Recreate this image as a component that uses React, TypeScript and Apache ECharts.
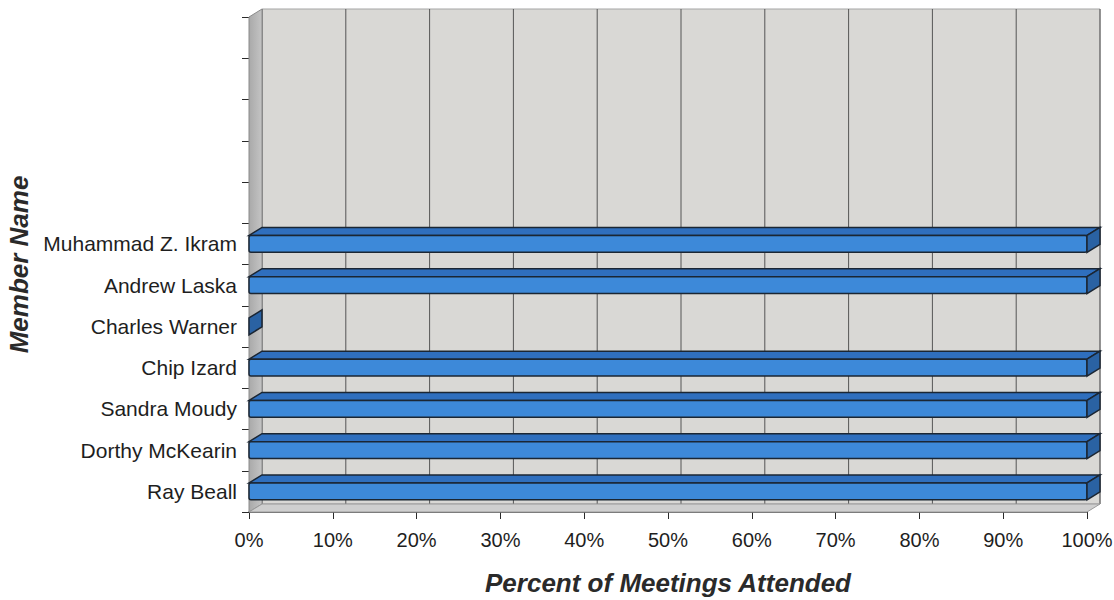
import React, { useEffect, useRef } from "react";
import * as echarts from "echarts";

// Categories listed bottom-to-top (ECharts category y-axis order); top 5 slots are empty
const memberNames = [
  "Ray Beall",
  "Dorthy McKearin",
  "Sandra Moudy",
  "Chip Izard",
  "Charles Warner",
  "Andrew Laska",
  "Muhammad Z. Ikram",
  "",
  "",
  "",
  "",
  "",
];
const percentAttended = [100, 100, 100, 100, 0, 100, 100];
const percentTicks = [0, 10, 20, 30, 40, 50, 60, 70, 80, 90, 100];

const xTitle = "Percent of Meetings Attended";
const yTitle = "Member Name";

const DX = 13;
const DY = -8;
const FONT = "'Liberation Sans', Arial, Helvetica, sans-serif";

export default function App() {
  const ref = useRef<HTMLDivElement>(null);

  useEffect(() => {
    if (!ref.current) return;
    const chart = echarts.init(ref.current, undefined, { renderer: "svg" });

    const wallsRender = (params: any, api: any) => {
      const cs = params.coordSys;
      const x0 = cs.x;
      const x1 = cs.x + cs.width;
      const y0 = cs.y;
      const y1 = cs.y + cs.height;
      const children: any[] = [];
      // back wall
      children.push({
        type: "rect",
        shape: { x: x0 + DX, y: y0 + DY, width: x1 - x0, height: y1 - y0 },
        style: { fill: "#d9d8d5", stroke: "#a5a5a5", lineWidth: 1 },
      });
      // gridlines on back wall
      percentTicks.forEach((t) => {
        const px = api.coord([t, 0])[0] + DX;
        children.push({
          type: "line",
          shape: { x1: px, y1: y0 + DY, x2: px, y2: y1 + DY },
          style: { stroke: "#555555", lineWidth: 1 },
        });
      });
      // left side wall
      children.push({
        type: "polygon",
        shape: {
          points: [
            [x0, y0],
            [x0 + DX, y0 + DY],
            [x0 + DX, y1 + DY],
            [x0, y1],
          ],
        },
        style: {
          fill: new echarts.graphic.LinearGradient(0, 0, 1, 0, [
            { offset: 0, color: "#a9a9a9" },
            { offset: 1, color: "#c4c4c4" },
          ]),
          stroke: "#8a8a8a",
          lineWidth: 1,
        },
      });
      // floor
      children.push({
        type: "polygon",
        shape: {
          points: [
            [x0, y1],
            [x1, y1],
            [x1 + DX, y1 + DY],
            [x0 + DX, y1 + DY],
          ],
        },
        style: { fill: "#cfcfcf", stroke: "#9a9a9a", lineWidth: 1 },
      });
      return { type: "group", children };
    };

    const barRender = (params: any, api: any) => {
      const v = api.value(0);
      const ci = api.value(1);
      const p1 = api.coord([v, ci]);
      const p0 = api.coord([0, ci]);
      const band = api.size([0, 1])[1];
      const h = band * 0.41;
      const yt = p1[1] - h / 2;
      const yb = p1[1] + h / 2;
      const stroke = "#1b2633";
      const children: any[] = [];
      if (p1[0] - p0[0] > 0.5) {
        children.push({
          type: "polygon",
          shape: {
            points: [
              [p0[0], yt],
              [p1[0], yt],
              [p1[0] + DX, yt + DY],
              [p0[0] + DX, yt + DY],
            ],
          },
          style: { fill: "#2f6fbe", stroke, lineWidth: 1.5 },
        });
        children.push({
          type: "rect",
          shape: { x: p0[0], y: yt, width: p1[0] - p0[0], height: h, r: 2 },
          style: { fill: "#3d89d9", stroke, lineWidth: 1.5 },
        });
      }
      children.push({
        type: "polygon",
        shape: {
          points: [
            [p1[0], yt],
            [p1[0] + DX, yt + DY],
            [p1[0] + DX, yb + DY],
            [p1[0], yb],
          ],
        },
        style: { fill: "#2a62a3", stroke, lineWidth: 1.5 },
      });
      return { type: "group", children };
    };

    chart.setOption({
      animation: false,
      backgroundColor: "#ffffff",
      grid: {
        left: 249,
        top: 17,
        width: 838,
        height: 495,
        containLabel: false,
        outerBoundsMode: "none",
      },
      xAxis: {
        type: "value",
        min: 0,
        max: 100,
        interval: 10,
        name: xTitle,
        nameLocation: "middle",
        nameGap: 58,
        nameTextStyle: {
          fontFamily: FONT,
          fontSize: 26,
          fontWeight: "bold",
          fontStyle: "italic",
          color: "#2a2a2a",
        },
        axisLine: { show: true, lineStyle: { color: "#2a2a2a", width: 1.5 } },
        axisTick: { show: true, length: 7, lineStyle: { color: "#2a2a2a" } },
        axisLabel: {
          formatter: "{value}%",
          fontFamily: FONT,
          fontSize: 20,
          color: "#1e1e1e",
          margin: 18,
        },
        splitLine: { show: false },
      },
      yAxis: {
        type: "category",
        data: memberNames,
        name: yTitle,
        nameLocation: "middle",
        nameGap: 215,
        nameTextStyle: {
          fontFamily: FONT,
          fontSize: 26,
          fontWeight: "bold",
          fontStyle: "italic",
          color: "#2a2a2a",
        },
        axisLine: { show: true, lineStyle: { color: "#8a8a8a", width: 1 } },
        axisTick: { show: true, length: 7, lineStyle: { color: "#2a2a2a" } },
        axisLabel: {
          fontFamily: FONT,
          fontSize: 21,
          color: "#1e1e1e",
          margin: 12,
        },
        splitLine: { show: false },
      },
      series: [
        {
          type: "custom",
          silent: true,
          renderItem: wallsRender,
          data: [[0, 0]],
          encode: { x: 0, y: 1 },
          z: 1,
          clip: false,
        },
        {
          type: "custom",
          silent: true,
          renderItem: barRender,
          data: percentAttended.map((v, i) => [v, i]),
          encode: { x: 0, y: 1 },
          z: 3,
          clip: false,
        },
      ],
    });

    return () => chart.dispose();
  }, []);

  return (
    <div
      ref={ref}
      style={{ position: "absolute", left: 0, top: 0, width: 1114, height: 600 }}
    />
  );
}
